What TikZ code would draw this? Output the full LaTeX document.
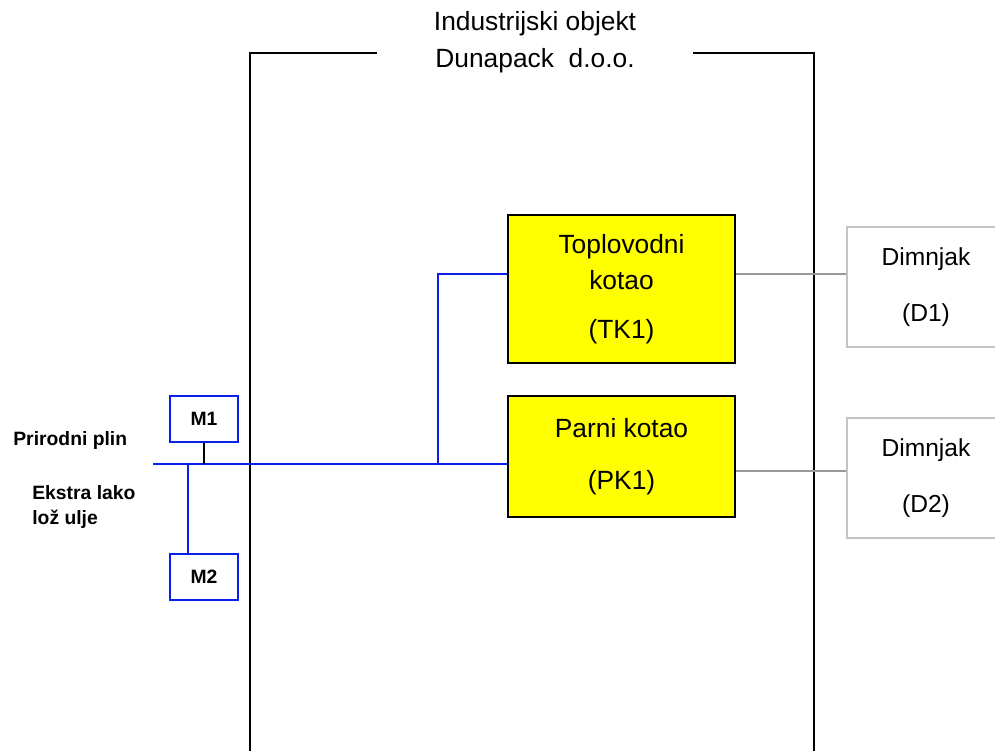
\documentclass[tikz,border=0pt]{standalone}
\usepackage{fontspec}
\setmainfont{Liberation Sans}
\setsansfont{Liberation Sans}
\usetikzlibrary{calc}
\definecolor{pipeblue}{HTML}{0A1EF0}
\definecolor{boileryellow}{HTML}{FFFF00}
\definecolor{stackgray}{HTML}{C4C4C4}
\definecolor{fluegray}{HTML}{9A9A9A}

\begin{document}
\begin{tikzpicture}[
    x=0.02cm, y=-0.02cm,
    font=\sffamily,
    wall/.style={line width=1.2pt, draw=black},
    boiler/.style={
        draw=black,
        fill=boileryellow,
        minimum width=4.54cm,
        align=center,
        line width=0.9pt,
        font=\sffamily\fontsize{15}{20.4}\selectfont
    },
    stack/.style={
        draw=stackgray,
        fill=white,
        minimum width=3.16cm,
        minimum height=2.4cm,
        align=center,
        line width=0.9pt,
        font=\sffamily\fontsize{14}{16}\selectfont
    },
    meter/.style={
        draw=pipeblue,
        fill=white,
        minimum width=1.36cm,
        minimum height=0.92cm,
        line width=0.9pt,
        font=\sffamily\bfseries\fontsize{11}{13}\selectfont
    },
    fuel/.style={font=\sffamily\bfseries\fontsize{11}{14.7}\selectfont, inner sep=0pt},
    pipe/.style={draw=pipeblue, line width=0.85pt},
    flue/.style={draw=fluegray, line width=0.8pt}
]
\useasboundingbox (0,0) rectangle (995,751);
\clip (0,0) rectangle (995,751);

% Building outline
\draw[wall] (377,53) -- (250,53) -- (250,760);
\draw[wall] (693,53) -- (814,53) -- (814,760);
\node[font=\sffamily\fontsize{15}{21}\selectfont, align=center] (site) at (535,42)
    {Industrijski objekt\\Dunapack\ \ d.o.o.};

% Boilers
\node[boiler, minimum height=2.96cm] (tk1) at (621.5,289)
    {Toplovodni\\kotao\\[7.4pt](TK1)};
\node[boiler, minimum height=2.42cm] (pk1) at (621.5,456.5)
    {Parni kotao\\[9pt](PK1)};

% Chimneys
\node[stack] (d1) at (926,287) {Dimnjak\\[16pt](D1)};
\node[stack] (d2) at (926,478) {Dimnjak\\[16pt](D2)};

% Meters
\node[meter] (m1) at (204,419) {M1};
\node[meter] (m2) at (204,577) {M2};

% Fuel labels
\node[fuel, anchor=base west] (gas) at (13,445) {Prirodni plin};
\node[fuel, anchor=west, align=left] (oil) at (32,507) {Ekstra lako\\lož ulje};

% Fuel pipes
\coordinate (inlet) at (153,464);
\coordinate (junc) at (438,464);
\coordinate (mtap) at (188,464);
\coordinate (tkin) at (508,274);
\draw[pipe] (inlet) -- (inlet -| pk1.west);
\draw[pipe] (junc) |- (tkin -| tk1.west);
\draw[pipe] (mtap) -- (mtap |- m2.north);
\draw[line width=0.8pt] (m1.south) -- (m1.south |- inlet);

% Flue gas
\coordinate (pkout) at (735,471);
\draw[flue] (tkin -| tk1.east) -- (tkin -| d1.west);
\draw[flue] (pkout -| pk1.east) -- (pkout -| d2.west);

\end{tikzpicture}
\end{document}
